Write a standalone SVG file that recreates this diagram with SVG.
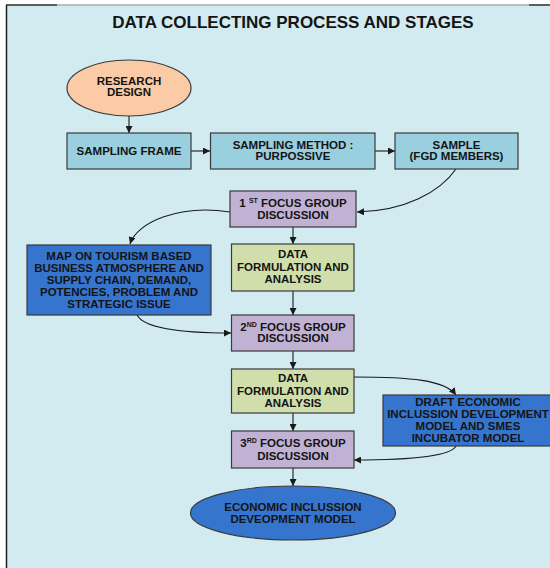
<svg xmlns="http://www.w3.org/2000/svg" width="550" height="568" viewBox="0 0 550 568">
<style>
.t{font-family:"Liberation Sans",Arial,sans-serif;font-weight:bold;font-size:11.5px;fill:#141414;text-anchor:middle}
.box{stroke:#3a3a3a;stroke-width:1.2}
.samp{fill:#99CFDE}
.fgd{fill:#C1B2D4}
.df{fill:#D0DEAB}
.blue{fill:#3575CE}
.c{fill:none;stroke:#1a1a1a;stroke-width:1.1;marker-end:url(#ah)}
</style>
<defs>
<marker id="ah" viewBox="0 0 10 10" refX="10" refY="5" markerWidth="7" markerHeight="7" markerUnits="userSpaceOnUse" orient="auto">
<path d="M0,0 L10,5 L0,10 z" fill="#1a1a1a"/>
</marker>
</defs>
<rect x="0" y="0" width="550" height="568" fill="#ffffff"/>
<rect x="7" y="5.5" width="543" height="563" fill="#D2EBF0"/>
<line x1="6.5" y1="5" x2="6.5" y2="568" stroke="#1e1e1e" stroke-width="1.5"/>
<line x1="6" y1="5" x2="57" y2="5" stroke="#2a2a2a" stroke-width="1.5"/>
<line x1="57" y1="5" x2="529" y2="5" stroke="#aaaaaa" stroke-width="1.5"/>
<line x1="529" y1="5" x2="550" y2="5" stroke="#2a2a2a" stroke-width="1.5"/>
<text x="293" y="28" class="t" style="font-size:17px">DATA COLLECTING PROCESS AND STAGES</text>

<g id="connectors">
<line class="c" x1="129" y1="116" x2="129" y2="133"/>
<line class="c" x1="191" y1="151" x2="210" y2="151"/>
<line class="c" x1="375" y1="151" x2="395" y2="151"/>
<path class="c" d="M456,169 C440,192 405,211 357,212"/>
<path class="c" d="M230,212 C180,204 137,222 130,244"/>
<line class="c" x1="293" y1="227" x2="293" y2="244"/>
<line class="c" x1="293" y1="291" x2="293" y2="315"/>
<path class="c" d="M137,315 C145,330 190,333 231,333"/>
<line class="c" x1="293" y1="351" x2="293" y2="369"/>
<path class="c" d="M354,377 C410,377 445,380 456,395"/>
<line class="c" x1="293" y1="413" x2="293" y2="431"/>
<path class="c" d="M456,446 C450,458 400,460 354,460"/>
<line class="c" x1="293" y1="468" x2="293" y2="486"/>
</g>

<g id="research-design">
<ellipse cx="129" cy="88" rx="62" ry="28" fill="#FACBA6" class="box"/>
<text x="129" y="85" class="t">RESEARCH</text>
<text x="129" y="96" class="t">DESIGN</text>
</g>

<g id="sampling-frame">
<rect x="67" y="133" width="124" height="36" class="box samp"/>
<text x="129" y="155" class="t">SAMPLING FRAME</text>
</g>

<g id="sampling-method">
<rect x="210.5" y="133" width="164.5" height="36" class="box samp"/>
<text x="293" y="149" class="t">SAMPLING METHOD :</text>
<text x="293" y="160" class="t">PURPOSSIVE</text>
</g>

<g id="sample">
<rect x="395" y="133" width="123" height="36" class="box samp"/>
<text x="456.5" y="149" class="t">SAMPLE</text>
<text x="456.5" y="160" class="t">(FGD MEMBERS)</text>
</g>

<g id="fgd1">
<rect x="230" y="191" width="126" height="36" class="box fgd"/>
<text x="293" y="207" class="t">1 <tspan font-size="7" dy="-4">ST</tspan><tspan dy="4"> FOCUS GROUP</tspan></text>
<text x="293" y="219" class="t">DISCUSSION</text>
</g>

<g id="map">
<rect x="27" y="245" width="184" height="70" class="box blue"/>
<text x="119" y="260" class="t">MAP ON TOURISM BASED</text>
<text x="119" y="272" class="t">BUSINESS ATMOSPHERE AND</text>
<text x="119" y="284" class="t">SUPPLY CHAIN, DEMAND,</text>
<text x="119" y="296" class="t">POTENCIES, PROBLEM AND</text>
<text x="119" y="308" class="t">STRATEGIC ISSUE</text>
</g>

<g id="data-formulation-1">
<rect x="231.5" y="244" width="122.5" height="47" class="box df"/>
<text x="293" y="258" class="t">DATA</text>
<text x="293" y="270.5" class="t">FORMULATION AND</text>
<text x="293" y="283" class="t">ANALYSIS</text>
</g>

<g id="fgd2">
<rect x="231.5" y="315" width="122.5" height="36" class="box fgd"/>
<text x="293" y="331" class="t">2<tspan font-size="7" dy="-4">ND</tspan><tspan dy="4"> FOCUS GROUP</tspan></text>
<text x="293" y="342" class="t">DISCUSSION</text>
</g>

<g id="data-formulation-2">
<rect x="231.5" y="369" width="122.5" height="44" class="box df"/>
<text x="293" y="382" class="t">DATA</text>
<text x="293" y="394.5" class="t">FORMULATION AND</text>
<text x="293" y="407" class="t">ANALYSIS</text>
</g>

<g id="draft-model">
<rect x="383" y="395" width="172" height="51" class="box blue"/>
<text x="468" y="406" class="t">DRAFT ECONOMIC</text>
<text x="468" y="418" class="t">INCLUSSION DEVELOPMENT</text>
<text x="468" y="430" class="t">MODEL AND SMES</text>
<text x="468" y="442" class="t">INCUBATOR MODEL</text>
</g>

<g id="fgd3">
<rect x="231.5" y="431" width="122.5" height="37" class="box fgd"/>
<text x="293" y="447" class="t">3<tspan font-size="7" dy="-4">RD</tspan><tspan dy="4"> FOCUS GROUP</tspan></text>
<text x="293" y="460" class="t">DISCUSSION</text>
</g>

<g id="economic-inclusion-model">
<ellipse cx="293" cy="513" rx="102.5" ry="27" class="box blue"/>
<text x="293" y="511" class="t">ECONOMIC INCLUSSION</text>
<text x="293" y="523" class="t">DEVEOPMENT MODEL</text>
</g>
</svg>
